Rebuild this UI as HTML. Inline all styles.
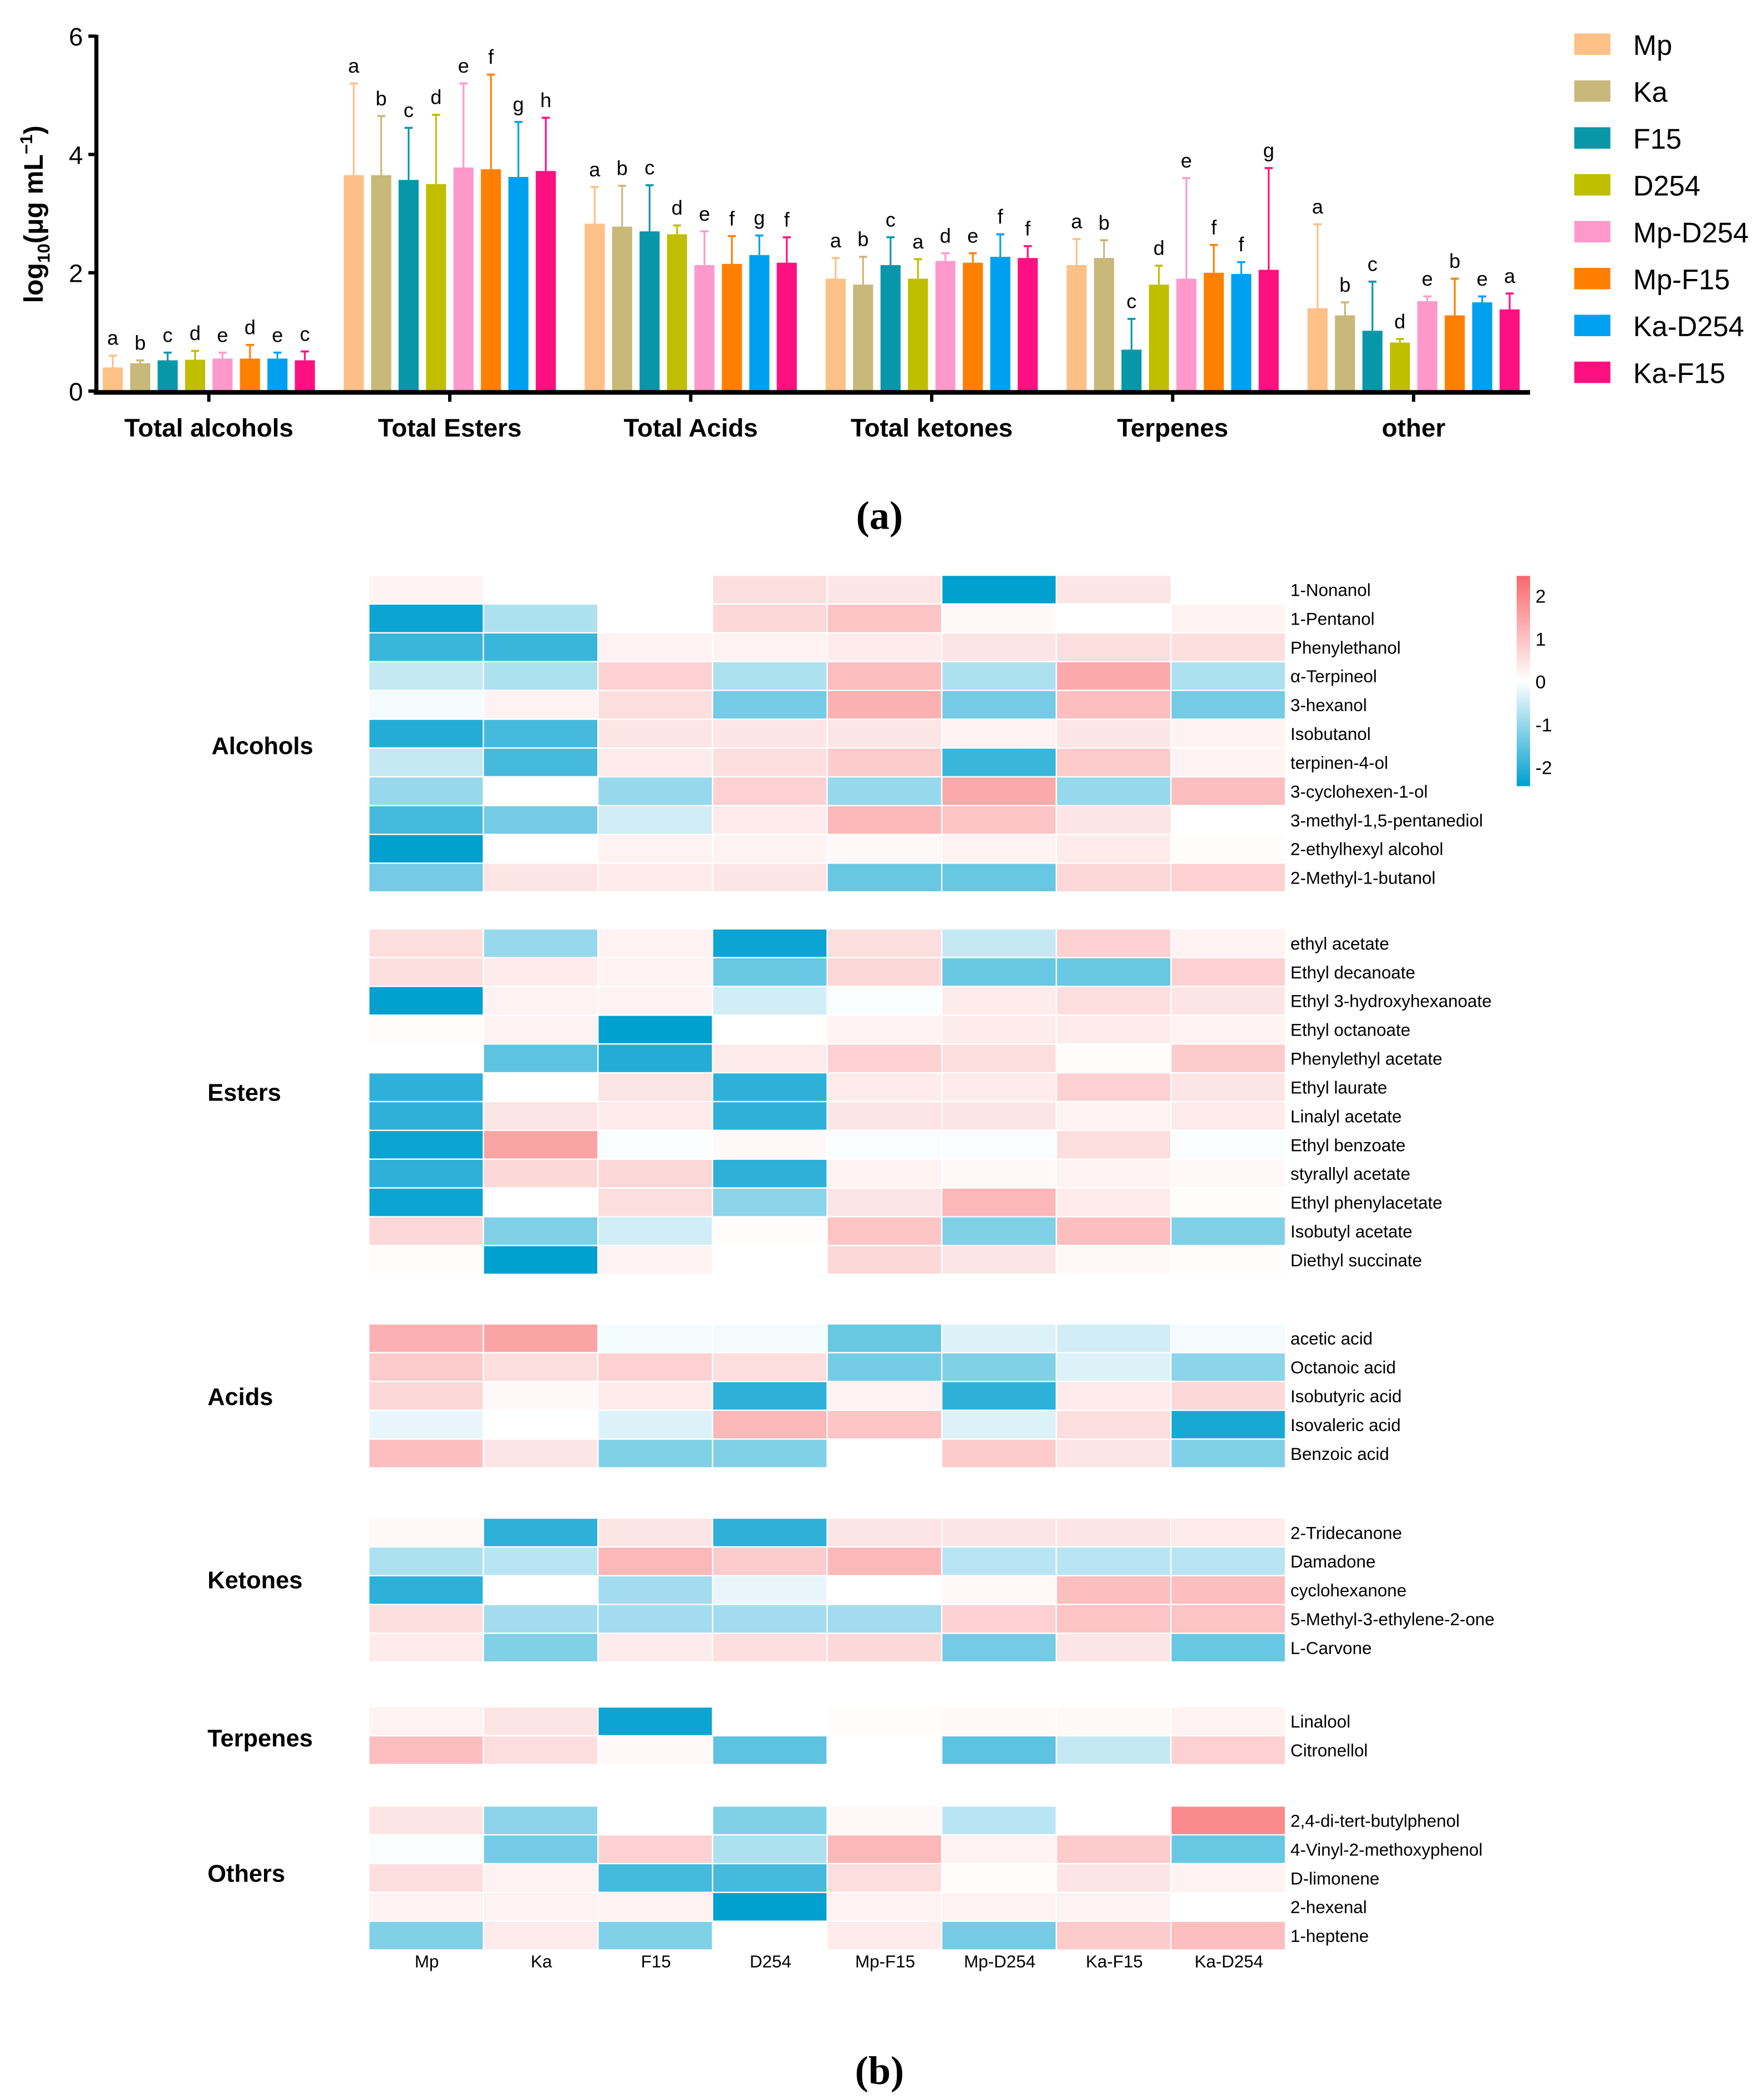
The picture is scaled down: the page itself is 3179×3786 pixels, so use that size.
<!DOCTYPE html>
<html><head><meta charset="utf-8"><style>
html,body{margin:0;padding:0;background:#fff}
svg{display:block}
text{font-family:"Liberation Sans",Arial,sans-serif}
</style></head><body>
<svg id="c" width="3179" height="3786" viewBox="0 0 1317 1568" preserveAspectRatio="none" xmlns="http://www.w3.org/2000/svg">
<g id="bar"></g>
<g id="heat"></g>
<text x="657" y="395" text-anchor="middle" font-size="30" font-weight="bold" style="font-family:'Liberation Serif',serif">(a)</text>
<text x="657" y="1556" text-anchor="middle" font-size="30" font-weight="bold" style="font-family:'Liberation Serif',serif">(b)</text>
</svg>
<script>
const NS='http://www.w3.org/2000/svg';
const groups=['Total alcohols','Total Esters','Total Acids','Total ketones','Terpenes','other'];
const seriesNames=['Mp','Ka','F15','D254','Mp-D254','Mp-F15','Ka-D254','Ka-F15'];
const seriesColors=['#fdc086','#c8b87a','#0897a8','#bfbf00','#ff99cc','#ff8000','#00a0f0','#ff1080'];
const means=[[0.4,0.47,0.52,0.53,0.55,0.55,0.55,0.52],[3.65,3.65,3.57,3.5,3.78,3.75,3.62,3.72],[2.83,2.78,2.7,2.65,2.13,2.15,2.3,2.17],[1.9,1.8,2.13,1.9,2.2,2.17,2.27,2.25],[2.13,2.25,0.7,1.8,1.9,2.0,1.98,2.05],[1.4,1.28,1.02,0.82,1.52,1.28,1.5,1.38]];
const errTops=[[0.6,0.52,0.65,0.68,0.65,0.78,0.65,0.67],[5.2,4.65,4.45,4.67,5.2,5.35,4.55,4.62],[3.45,3.47,3.48,2.8,2.7,2.62,2.63,2.6],[2.25,2.27,2.6,2.23,2.33,2.33,2.65,2.45],[2.57,2.55,1.22,2.12,3.6,2.47,2.18,3.77],[2.82,1.5,1.85,0.88,1.6,1.9,1.6,1.65]];
const letters=[['a','b','c','d','e','d','e','c'],['a','b','c','d','e','f','g','h'],['a','b','c','d','e','f','g','f'],['a','b','c','a','d','e','f','f'],['a','b','c','d','e','f','f','g'],['a','b','c','d','e','b','e','a']];
const yTicks=[0,2,4,6];

const rowLabels=['1-Nonanol','1-Pentanol','Phenylethanol','α-Terpineol','3-hexanol','Isobutanol','terpinen-4-ol','3-cyclohexen-1-ol','3-methyl-1,5-pentanediol','2-ethylhexyl alcohol','2-Methyl-1-butanol','ethyl acetate','Ethyl decanoate','Ethyl 3-hydroxyhexanoate','Ethyl octanoate','Phenylethyl acetate','Ethyl laurate','Linalyl acetate','Ethyl benzoate','styrallyl acetate','Ethyl phenylacetate','Isobutyl acetate','Diethyl succinate','acetic acid','Octanoic acid','Isobutyric acid','Isovaleric acid','Benzoic acid','2-Tridecanone','Damadone','cyclohexanone','5-Methyl-3-ethylene-2-one','L-Carvone','Linalool','Citronellol','2,4-di-tert-butylphenol','4-Vinyl-2-methoxyphenol','D-limonene','2-hexenal','1-heptene'];
const colLabels=['Mp','Ka','F15','D254','Mp-F15','Mp-D254','Ka-F15','Ka-D254'];
const blockNames=['Alcohols','Esters','Acids','Ketones','Terpenes','Others'];
const blockSizes=[11,12,5,5,2,5];
const heatValues=[
[0.2,0,0,0.5,0.4,-2.2,0.4,0],[-2.1,-0.7,0,0.6,0.9,0.1,0,0.2],[-1.7,-1.7,0.2,0.2,0.3,0.4,0.5,0.5],[-0.5,-0.7,0.7,-0.7,1.0,-0.7,1.3,-0.7],[-0.1,0.2,0.5,-1.2,1.2,-1.2,1.0,-1.2],[-1.9,-1.6,0.4,0.4,0.4,0.2,0.4,0.2],[-0.5,-1.6,0.3,0.5,0.8,-1.7,0.8,0.2],[-0.9,0,-0.9,0.7,-0.9,1.3,-0.9,1.0],[-1.6,-1.2,-0.4,0.3,1.1,0.9,0.4,0],[-2.2,0,0.2,0.2,0.1,0.2,0.3,0.05],[-1.2,0.4,0.3,0.4,-1.3,-1.3,0.6,0.7],
[0.5,-0.9,0.2,-2.1,0.5,-0.5,0.7,0.2],[0.5,0.3,0.2,-1.3,0.6,-1.3,-1.3,0.7],[-2.2,0.2,0.2,-0.4,-0.05,0.3,0.5,0.4],[0.05,0.2,-2.2,0,0.2,0.3,0.3,0.2],[0,-1.4,-1.9,0.3,0.7,0.5,0.05,0.8],[-1.8,0,0.4,-1.8,0.3,0.3,0.7,0.4],[-1.8,0.4,0.3,-1.8,0.4,0.4,0.2,0.3],[-2.1,1.4,-0.05,0.1,-0.05,-0.05,0.5,-0.05],[-1.8,0.6,0.6,-1.8,0.2,0.1,0.2,0.1],[-2.1,0,0.5,-1.0,0.4,1.1,0.3,0.05],[0.6,-1.1,-0.4,0.05,0.9,-1.1,1.0,-1.1],[0.05,-2.2,0.2,0,0.6,0.4,0.1,0.05],
[1.2,1.4,-0.1,-0.1,-1.3,-0.3,-0.4,-0.1],[0.8,0.5,0.7,0.5,-1.2,-1.1,-0.3,-1.0],[0.6,0.1,0.3,-1.8,0.2,-1.8,0.3,0.6],[-0.2,0,-0.3,1.1,0.9,-0.3,0.5,-2.0],[1.0,0.4,-1.1,-1.1,0,0.8,0.4,-1.1],
[0.1,-1.8,0.4,-1.8,0.4,0.4,0.4,0.3],[-0.7,-0.6,1.1,0.8,1.1,-0.6,-0.6,-0.6],[-1.8,0,-0.8,-0.2,0,0.1,1.0,1.0],[0.5,-0.8,-0.8,-0.8,-0.8,0.7,0.9,0.9],[0.3,-1.1,0.3,0.5,0.6,-1.2,0.4,-1.3],
[0.2,0.4,-2.1,0,0.05,0.1,0.1,0.2],[1.0,0.5,0.1,-1.4,0,-1.4,-0.5,0.7],
[0.4,-1.0,0,-1.1,0.1,-0.6,0,1.8],[-0.05,-1.2,0.7,-0.7,1.1,0.2,0.8,-1.3],[0.5,0.2,-1.6,-1.6,0.5,0.05,0.4,0.2],[0.2,0.2,0.2,-2.2,0.2,0.2,0.2,0],[-1.1,0.3,-1.1,0,0.3,-1.2,0.8,1.0]];
const colorTicks=[2,1,0,-1,-2];

function mk(tag,attrs,parent,txt){const e=document.createElementNS(NS,tag);for(const k in attrs)e.setAttribute(k,attrs[k]);if(txt!==undefined)e.textContent=txt;parent.appendChild(e);return e;}

// ---- bar chart ----
const bar=document.getElementById('bar');
const X0=72,X1=1143,Y0=292,Y6=27;
const yS=v=>Y0-(v/6)*(Y0-Y6);
const gC=g=>156+g*180;
const bx=(g,i)=>gC(g)+(i-3.5)*20.5;
groups.forEach((gname,g)=>{
  seriesNames.forEach((s,i)=>{
    const x=bx(g,i),v=means[g][i],t=errTops[g][i];
    const r=mk('rect',{x:x-7.5,y:yS(v),width:15,height:Y0-yS(v),fill:seriesColors[i]},bar);
    
    
    const l=mk('line',{x1:x,x2:x,y1:yS(v),y2:yS(t),stroke:seriesColors[i],'stroke-width':1.3},bar);
    
    
    mk('line',{x1:x-3,x2:x+3,y1:yS(t),y2:yS(t),stroke:seriesColors[i],'stroke-width':1.5},bar);
    const tx=mk('text',{x:x,y:yS(t)-8,'text-anchor':'middle','font-size':15},bar,letters[g][i]);
    
    
  });
  mk('line',{x1:gC(g),x2:gC(g),y1:Y0,y2:Y0+8,stroke:'#000','stroke-width':2.5},bar);
  const gl=mk('text',{x:gC(g),y:326,'text-anchor':'middle','font-size':19,'font-weight':'bold'},bar,gname);
  
  
});
mk('line',{x1:X0,x2:X0,y1:Y6-1,y2:Y0+2,stroke:'#000','stroke-width':3},bar);
mk('line',{x1:X0-2,x2:X1,y1:Y0+1,y2:Y0+1,stroke:'#000','stroke-width':3.5},bar);
yTicks.forEach(t=>{
  mk('line',{x1:X0-6,x2:X0,y1:yS(t),y2:yS(t),stroke:'#000','stroke-width':2.5},bar);
  const tl=mk('text',{x:X0-10,y:yS(t)+7,'text-anchor':'end','font-size':19},bar,t);
  
  
});
const yt=mk('text',{transform:'translate(32,160) rotate(-90)','text-anchor':'middle','font-size':20,'font-weight':'bold'},bar);


yt.innerHTML='log<tspan font-size="13" dy="5">10</tspan><tspan dy="-5">(μg mL</tspan><tspan font-size="13" dy="-8">−1</tspan><tspan dy="8">)</tspan>';
seriesNames.forEach((s,i)=>{
  const y=33+i*35;
  const lr=mk('rect',{x:1176,y:y-8,width:27,height:16,fill:seriesColors[i]},bar);
  
  
  const lt=mk('text',{x:1220,y:y+8,'font-size':21},bar,s);
  
  
});

// ---- heatmap ----
const heat=document.getElementById('heat');
const HX0=276,CW=85.6,RH=21.5;
const blockStarts=[430,694,989,1134,1275,1349];
const blockLabelY=[563,822,1049,1186,1304,1405];
function col(v){
  const red=[248,105,107],blue=[0,160,208],w=[255,255,255];
  let c,t;
  if(v>=0){t=Math.min(v/2.3,1);c=red;}else{t=Math.min(-v/2.2,1);c=blue;}
  const r=w.map((a,k)=>Math.round(a+(c[k]-a)*t));
  return 'rgb('+r.join(',')+')';
}
let ri=0;
blockSizes.forEach((n,b)=>{
  const y0=blockStarts[b];
  const bl=mk('text',{x:b==0?158:155,y:blockLabelY[b],'font-size':18,'font-weight':'bold'},heat,blockNames[b]);
  
  
  for(let r=0;r<n;r++){
    const y=y0+r*RH;
    heatValues[ri].forEach((v,c)=>{
      const cell=mk('rect',{x:HX0+c*CW,y:y,width:CW-1,height:RH-1,fill:col(v)},heat);
      
      
    });
    const rl=mk('text',{x:964,y:y+15,'font-size':13},heat,rowLabels[ri]);
    
    
    ri++;
  }
});
colLabels.forEach((c,i)=>{
  const cl=mk('text',{x:HX0+i*CW+CW/2,y:1469,'text-anchor':'middle','font-size':13},heat,c);
  
  
});
const defs=mk('defs',{},heat);
const lg=mk('linearGradient',{id:'cb',x1:0,y1:0,x2:0,y2:1},defs);
mk('stop',{offset:'0','stop-color':'#f8696b'},lg);
mk('stop',{offset:'0.5','stop-color':'#ffffff'},lg);
mk('stop',{offset:'1','stop-color':'#00a0d0'},lg);
const cb=mk('rect',{x:1133,y:430,width:10,height:157,fill:'url(#cb)'},heat);


colorTicks.forEach(t=>{
  const ct=mk('text',{x:1147,y:509-t*32+5,'font-size':14},heat,t);
  
  
});
</script>
</body></html>
